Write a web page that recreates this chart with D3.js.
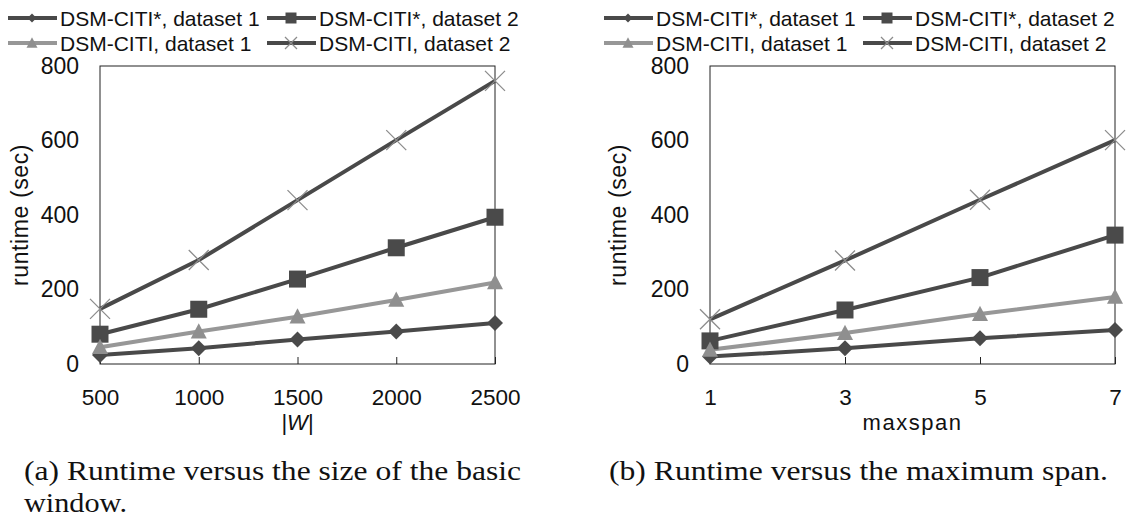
<!DOCTYPE html>
<html>
<head>
<meta charset="utf-8">
<script src="https://cdn.jsdelivr.net/npm/d3@7"></script>
<style>
  body { margin: 0; background: #fff; }
  svg { display: block; }
  text { font-family: "Liberation Sans", Arial, sans-serif; fill: #111; }
  .cap { font-family: "Liberation Serif", "Times New Roman", serif; }
</style>
</head>
<body>
<svg id="fig" width="1137" height="519"></svg>
<script>
// ---- data ----
const seriesNames = ["DSM-CITI*, dataset 1", "DSM-CITI*, dataset 2", "DSM-CITI, dataset 1", "DSM-CITI, dataset 2"];
const seriesSymbols = ["diamond", "square", "triangle", "cross"];

// (a) runtime vs |W|
const wSizes = [500, 1000, 1500, 2000, 2500];
const wStar1 = [24, 42, 66, 87, 110];
const wStar2 = [80, 147, 228, 312, 394];
const wCiti1 = [45, 87, 127, 172, 219];
const wCiti2 = [148, 279, 440, 601, 760];

// (b) runtime vs maxspan
const spans = [1, 3, 5, 7];
const sStar1 = [20, 42, 69, 91];
const sStar2 = [62, 145, 232, 346];
const sCiti1 = [38, 83, 134, 180];
const sCiti2 = [120, 278, 441, 601];

const yTicks = [0, 200, 400, 600, 800];

const svg = d3.select("#fig");

// line / marker look per series
const lineColor = ["#494949", "#494949", "#979797", "#494949"];
const markColor = ["#4a4a4a", "#4a4a4a", "#8f8f8f", "#8c8c8c"];

// own marker shapes, s = full width in px
function symbolPath(kind, s) {
    const h = s / 2;
    const p = d3.path();
    if (kind === "diamond") {
        p.moveTo(0, -h); p.lineTo(h, 0); p.lineTo(0, h); p.lineTo(-h, 0); p.closePath();
    } else if (kind === "square") {
        p.rect(-h, -h, s, s);
    } else if (kind === "triangle") {
        p.moveTo(0, -h * 1.05); p.lineTo(h, h * 0.85); p.lineTo(-h, h * 0.85); p.closePath();
    } else {
        p.moveTo(-h, -h); p.lineTo(h, h); p.moveTo(h, -h); p.lineTo(-h, h);
    }
    return p.toString();
}

function drawMarker(sel, i, x, y, s) {
    const p = sel.append("path")
        .attr("transform", `translate(${x},${y})`)
        .attr("d", symbolPath(seriesSymbols[i], s));
    if (seriesSymbols[i] === "cross") {
        p.attr("fill", "none").attr("stroke", markColor[i]).attr("stroke-width", 1.3);
    } else {
        p.attr("fill", markColor[i]);
    }
}

function drawPanel(opt) {
    const { left, right, top, bottom, xs, ys, xDomain, xLabel, titleX, legendX } = opt;

    const x = d3.scaleLinear().domain(xDomain).range([left, right]);
    const y = d3.scaleLinear().domain([0, 800]).range([bottom, top]);
    const g = svg.append("g");

    // frame
    g.append("rect")
        .attr("x", left).attr("y", top)
        .attr("width", right - left).attr("height", bottom - top)
        .attr("fill", "none").attr("stroke", "#222").attr("stroke-width", 1);

    // x axis: inward ticks, labels below
    const xAxis = d3.axisBottom(x).tickValues(xs).tickFormat(d3.format("d"))
        .tickSizeInner(-7).tickSizeOuter(0).tickPadding(25);
    const gx = g.append("g").attr("transform", `translate(0,${bottom})`).call(xAxis);
    gx.select(".domain").remove();
    gx.selectAll("line").attr("stroke", "#222");
    gx.selectAll("text").attr("font-size", 22.5).attr("fill", "#111")
        .attr("font-family", "Liberation Sans, Arial, sans-serif");

    // y axis labels only
    const yAxis = d3.axisLeft(y).tickValues(yTicks).tickFormat(d3.format("d")).tickSize(0).tickPadding(21);
    const gy = g.append("g").attr("transform", `translate(${left},0)`).call(yAxis);
    gy.select(".domain").remove();
    gy.selectAll("text").attr("font-size", 23).attr("fill", "#111")
        .attr("font-family", "Liberation Sans, Arial, sans-serif");

    // axis titles
    g.append("text")
        .attr("transform", `translate(${titleX},${(top + bottom) / 2}) rotate(-90)`)
        .attr("text-anchor", "middle").attr("dy", "0.35em")
        .attr("font-size", 23).attr("letter-spacing", 0.6)
        .text("runtime (sec)");

    const xl = g.append("text")
        .attr("x", (left + right) / 2).attr("y", bottom + 66)
        .attr("text-anchor", "middle")
        .attr("font-size", 22);
    xLabel(xl);

    // series
    const line = d3.line().x(d => x(d[0])).y(d => y(d[1]));
    ys.forEach((vals, i) => {
        const pts = xs.map((v, k) => [v, vals[k]]);
        g.append("path")
            .datum(pts)
            .attr("d", line)
            .attr("fill", "none")
            .attr("stroke", lineColor[i])
            .attr("stroke-width", 4)
            .attr("stroke-linejoin", "round");
    });
    ys.forEach((vals, i) => {
        const sz = [16, 17, 16, 20][i];
        xs.forEach((v, k) => drawMarker(g, i, x(v), y(vals[k]), sz));
    });

    // legend, two rows of two
    const colOff = [0, 259];
    const rowY = [18, 43];
    seriesNames.forEach((name, i) => {
        const lx = legendX + colOff[i % 2];
        const ly = rowY[Math.floor(i / 2)];
        g.append("line")
            .attr("x1", lx).attr("x2", lx + 49)
            .attr("y1", ly).attr("y2", ly)
            .attr("stroke", lineColor[i]).attr("stroke-width", 4);
        drawMarker(g, i, lx + 24, ly, [9, 11, 11, 12][i]);
        g.append("text")
            .attr("x", lx + 52).attr("y", ly).attr("dy", "0.36em")
            .attr("font-size", 21)
            .text(name);
    });
}

drawPanel({
    left: 100, right: 495, top: 66, bottom: 364,
    xs: wSizes, ys: [wStar1, wStar2, wCiti1, wCiti2],
    xDomain: [500, 2500],
    titleX: 20, legendX: 8,
    xLabel: t => t.html('|<tspan font-style="italic">W</tspan>|')
});

drawPanel({
    left: 710, right: 1115, top: 66, bottom: 364,
    xs: spans, ys: [sStar1, sStar2, sCiti1, sCiti2],
    xDomain: [1, 7],
    titleX: 618, legendX: 604,
    xLabel: t => t.attr("letter-spacing", 1.5).text("maxspan")
});

// captions
svg.append("text").attr("class", "cap")
    .attr("x", 24).attr("y", 480).attr("font-size", 28)
    .attr("textLength", 497).attr("lengthAdjust", "spacingAndGlyphs")
    .text("(a) Runtime versus the size of the basic");
svg.append("text").attr("class", "cap")
    .attr("x", 24).attr("y", 512).attr("font-size", 28)
    .attr("textLength", 103).attr("lengthAdjust", "spacingAndGlyphs")
    .text("window.");
svg.append("text").attr("class", "cap")
    .attr("x", 609).attr("y", 480).attr("font-size", 28)
    .attr("textLength", 499).attr("lengthAdjust", "spacingAndGlyphs")
    .text("(b) Runtime versus the maximum span.");
</script>
</body>
</html>
